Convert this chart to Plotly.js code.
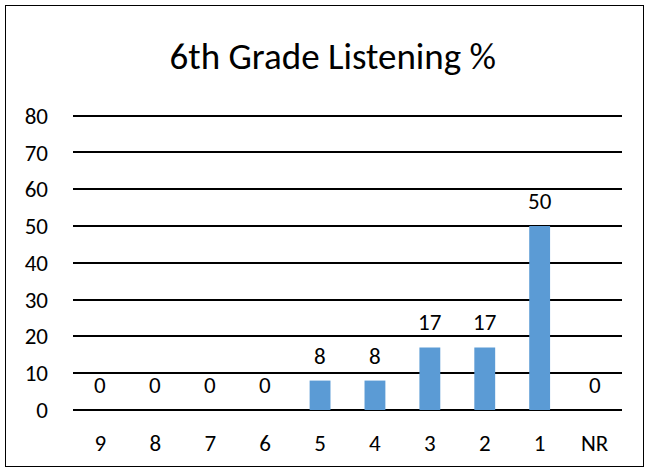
<!DOCTYPE html>
<html>
<head>
<meta charset="utf-8">
<script src="https://cdn.plot.ly/plotly-3.0.1.min.js"></script>
<style>
html,body{margin:0;padding:0;background:#fff;}
#wrap{position:relative;width:650px;height:472px;}
#chart{width:650px;height:472px;}
#frame{position:absolute;left:5px;top:5px;width:637px;height:460px;border:1.5px solid #000;pointer-events:none;}
</style>
</head>
<body>
<div id="wrap"><div id="chart"></div><div id="frame"></div></div>
<script>
const categories = ["9","8","7","6","5","4","3","2","1","NR"];
const values = [0,0,0,0,8,8,17,17,50,0];
const titleText = "6th Grade Listening %";
const yTicks = [0,10,20,30,40,50,60,70,80];

const font = "Calibri, Carlito, 'Open Sans', 'Noto Sans', sans-serif";

const labels = categories.map((c, i) => ({
  x: i, y: values[i], xref: "x", yref: "y",
  text: String(values[i]), showarrow: false,
  yanchor: "middle", yshift: 25,
  font: {family: font, size: 23, color: "#000"}
}));

Plotly.newPlot("chart", [{
  type: "bar",
  x: categories,
  y: values,
  marker: {color: "#5B9BD5"},
  hoverinfo: "none"
}], {
  width: 650, height: 472,
  margin: {l: 73, r: 28, t: 112, b: 62},
  paper_bgcolor: "#fff",
  plot_bgcolor: "#fff",
  bargap: 0.62,
  annotations: labels,
  title: {text: titleText, x: 0.512, xanchor: "center", y: 0.882, yanchor: "middle",
          font: {family: font, size: 37, color: "#000"}},
  xaxis: {type: "category", showgrid: false, showline: false, zeroline: false,
          ticks: "", tickfont: {family: font, size: 23, color: "#000"}, ticklabelstandoff: 17},
  yaxis: {range: [0, 81], tickvals: yTicks, showgrid: true, gridcolor: "#000", gridwidth: 2,
          zeroline: true, zerolinecolor: "#000", zerolinewidth: 2, showline: false, ticks: "",
          tickfont: {family: font, size: 23, color: "#000"}, ticklabelstandoff: 24},
  showlegend: false
}, {displayModeBar: false, staticPlot: true});
</script>
</body>
</html>
